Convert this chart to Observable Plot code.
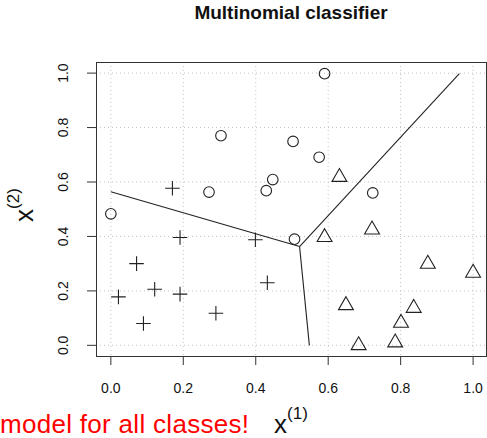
<!DOCTYPE html>
<html><head><meta charset="utf-8">
<script src="https://cdn.jsdelivr.net/npm/d3@7"></script>
<script src="https://cdn.jsdelivr.net/npm/@observablehq/plot@0.6"></script>
<style>body{margin:0;background:#fff} svg{display:block}</style>
</head><body><div id="chart"></div>
<script>
// Class "circle"
const circleX = [0.000, 0.304, 0.271, 0.429, 0.447, 0.503, 0.507, 0.590, 0.575, 0.723];
const circleY = [0.483, 0.770, 0.563, 0.568, 0.609, 0.749, 0.390, 0.998, 0.691, 0.560];
// Class "plus"
const plusX = [0.170, 0.191, 0.399, 0.071, 0.121, 0.021, 0.191, 0.432, 0.090, 0.290];
const plusY = [0.577, 0.396, 0.388, 0.300, 0.206, 0.178, 0.188, 0.230, 0.080, 0.118];
// Class "triangle"
const triX = [0.631, 0.590, 0.721, 0.875, 1.000, 0.649, 0.836, 0.801, 0.684, 0.785];
const triY = [0.618, 0.397, 0.425, 0.299, 0.266, 0.147, 0.137, 0.082, 0.000, 0.010];
// Decision boundary: junction and three end points
const junction = [0.521, 0.363];
const boundaryEndX = [0.000, 0.548, 0.962];
const boundaryEndY = [0.564, 0.000, 0.998];
// Axes
const ticks = [0, 0.2, 0.4, 0.6, 0.8, 1.0];
const tickLabels = ["0.0", "0.2", "0.4", "0.6", "0.8", "1.0"];
const titleText = "Multinomial classifier";
const noteText = "model for all classes!";

const toPts = (xs, ys) => xs.map((x, i) => ({x, y: ys[i]}));
const circles = toPts(circleX, circleY);
const pluses = toPts(plusX, plusY);
const tris = toPts(triX, triY);
const links = boundaryEndX.map((x, i) => ({x1: junction[0], y1: junction[1], x2: x, y2: boundaryEndY[i]}));

const plusSymbol = {draw(ctx, size) {
  const h = Math.sqrt(size / Math.PI);
  ctx.moveTo(-h, 0); ctx.lineTo(h, 0); ctx.moveTo(0, -h); ctx.lineTo(0, h);
}};
const triSymbol = {draw(ctx, size) {
  const r = Math.sqrt(size / Math.PI);
  const u = r * Math.sqrt(3) / 2;
  ctx.moveTo(0, -r); ctx.lineTo(u, r / 2); ctx.lineTo(-u, r / 2); ctx.closePath();
}};
const fmt = d => tickLabels[ticks.findIndex(t => Math.abs(t - d) < 1e-9)];
const ink = "#222";

const plot = Plot.plot({
  width: 487, height: 438,
  marginLeft: 96, marginRight: 1, marginTop: 62, marginBottom: 82,
  style: {fontFamily: "'Liberation Sans', Arial, sans-serif", fontSize: "14px", color: "#000", background: "#fff"},
  x: {domain: [-0.0396, 1.037]},
  y: {domain: [-0.041, 1.039]},
  marks: [
    Plot.gridX(ticks, {stroke: "#c4c4c4", strokeOpacity: 1, strokeDasharray: "1,3"}),
    Plot.gridY(ticks, {stroke: "#c4c4c4", strokeOpacity: 1, strokeDasharray: "1,3"}),
    Plot.frame({stroke: "#333"}),
    Plot.axisX(ticks, {tickSize: 9, tickPadding: 18, tickFormat: fmt, label: null, stroke: "#333", fill: "#111", fontSize: 14}),
    Plot.axisY(ticks, {tickSize: 9, tickPadding: 20, tickRotate: -90, textAnchor: "middle", lineAnchor: "bottom", tickFormat: fmt, label: null, stroke: "#333", fill: "#111", fontSize: 14}),
    Plot.link(links, {x1: "x1", y1: "y1", x2: "x2", y2: "y2", stroke: ink, strokeWidth: 1.1}),
    Plot.dot(circles, {x: "x", y: "y", r: 5.3, stroke: ink, strokeWidth: 1.1, fill: "none"}),
    Plot.dot(pluses, {x: "x", y: "y", r: 7.3, symbol: plusSymbol, stroke: ink, strokeWidth: 1.1, fill: "none"}),
    Plot.dot(tris, {x: "x", y: "y", r: 8.6, symbol: triSymbol, stroke: ink, strokeWidth: 1.1, fill: "none"})
  ]
});
document.getElementById("chart").appendChild(plot);

const svg = d3.select(plot);
const F = "'Liberation Sans', Arial, sans-serif";
svg.append("text").attr("x", 291).attr("y", 19).attr("text-anchor", "middle")
  .attr("font-family", F).attr("font-weight", "bold").attr("font-size", 19).attr("fill", "#111").text(titleText);

const xt = svg.append("text").attr("x", 291).attr("y", 433).attr("text-anchor", "middle")
  .attr("font-family", F).attr("font-size", 26).attr("fill", "#111");
xt.append("tspan").text("x");
xt.append("tspan").attr("dy", -14).attr("font-size", 17).text("(1)");

const yt = svg.append("text").attr("transform", "translate(33,205) rotate(-90)").attr("text-anchor", "middle")
  .attr("font-family", F).attr("font-size", 26).attr("fill", "#111");
yt.append("tspan").text("x");
yt.append("tspan").attr("dy", -14).attr("font-size", 17).text("(2)");

svg.append("text").attr("x", 0).attr("y", 433).attr("text-anchor", "start").attr("font-family", F).attr("font-size", 26)
  .attr("letter-spacing", 0.3).attr("fill", "#ff0000").text(noteText);
</script>
</body></html>
